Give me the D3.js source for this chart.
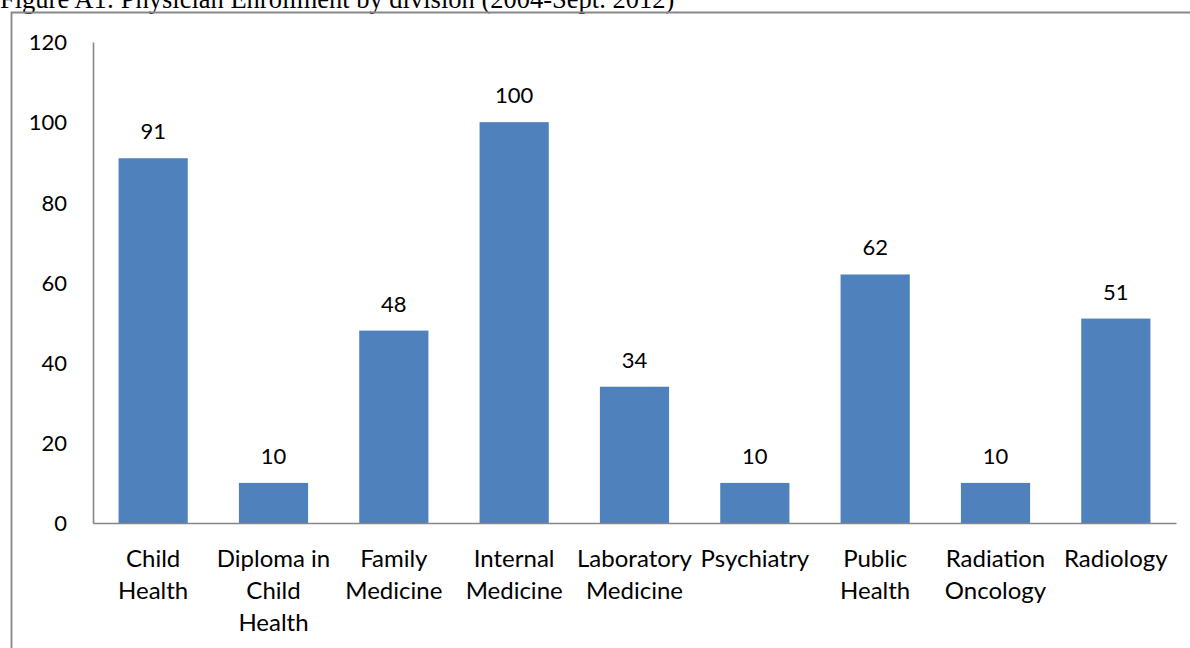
<!DOCTYPE html>
<html>
<head>
<meta charset="utf-8">
<script src="https://cdn.jsdelivr.net/npm/d3@7"></script>
<style>
  body { margin: 0; background: #fff; }
  svg { display: block; }
</style>
</head>
<body>
<div id="chart"></div>
<script>
// data
const categories = ["Child\nHealth", "Diploma in\nChild\nHealth", "Family\nMedicine", "Internal\nMedicine",
  "Laboratory\nMedicine", "Psychiatry", "Public\nHealth", "Radiation\nOncology", "Radiology"];
const enrolment = [91, 10, 48, 100, 34, 10, 62, 10, 51];
const yTicks = [0, 20, 40, 60, 80, 100, 120];
const title = "Figure A1: Physician Enrollment by division (2004-Sept. 2012)";

const width = 1190;
const height = 648;
const margin = { left: 93, right: 14, top: 42, bottom: 125 };

const svg = d3.select("#chart")
  .append("svg")
  .attr("width", width)
  .attr("height", height);

// title, cut off at the top like the scan
svg.append("text")
  .attr("x", 0)
  .attr("y", 8)
  .attr("font-family", "Liberation Serif, Times New Roman, serif")
  .attr("font-size", 26.5)
  .attr("fill", "#000")
  .text(title);

// frame around the chart
svg.append("path")
  .attr("d", `M11.5,${height + 2} V12.5 H${width + 2}`)
  .attr("fill", "none")
  .attr("stroke", "#878787")
  .attr("stroke-width", 1.8);

const xScale = d3.scaleBand()
  .domain(categories)
  .range([margin.left, width - margin.right])
  .paddingInner(0.425)
  .paddingOuter(0.2125);

const yScale = d3.scaleLinear()
  .domain([0, 120])
  .range([height - margin.bottom, margin.top]);

const font = "Lato, Calibri, sans-serif";

// bars
svg.selectAll("rect.bar")
  .data(enrolment)
  .join("rect")
  .attr("class", "bar")
  .attr("x", (d, i) => xScale(categories[i]))
  .attr("y", d => yScale(d))
  .attr("width", xScale.bandwidth())
  .attr("height", d => yScale(0) - yScale(d))
  .attr("fill", "#4F81BD");

// value labels
svg.selectAll("text.value")
  .data(enrolment)
  .join("text")
  .attr("class", "value")
  .attr("x", (d, i) => xScale(categories[i]) + xScale.bandwidth() / 2)
  .attr("y", d => yScale(d) - 19)
  .attr("text-anchor", "middle")
  .attr("font-family", font)
  .attr("font-size", 22)
  .text(d => d);

// y axis
const yAxis = svg.append("g")
  .attr("transform", `translate(${margin.left},0)`)
  .call(d3.axisLeft(yScale).tickValues(yTicks).tickSize(0).tickPadding(26));
yAxis.select(".domain").attr("stroke", "#868686").attr("stroke-width", 1.6);
yAxis.selectAll("text")
  .attr("font-family", font)
  .attr("font-size", 22)
  .attr("fill", "#000")
  .attr("dy", "0.35em");

// x axis
const xAxis = svg.append("g")
  .attr("transform", `translate(0,${yScale(0)})`)
  .call(d3.axisBottom(xScale).tickSize(0).tickFormat(""));
xAxis.select(".domain").attr("stroke", "#868686").attr("stroke-width", 1.6);

// category labels, wrapped as in the original
const labels = svg.selectAll("text.cat")
  .data(categories)
  .join("text")
  .attr("class", "cat")
  .attr("text-anchor", "middle")
  .attr("font-family", font)
  .attr("font-size", 24)
  .attr("fill", "#000");

labels.selectAll("tspan")
  .data(d => d.split("\n").map(line => ({ line, cat: d })))
  .join("tspan")
  .attr("x", d => xScale(d.cat) + xScale.bandwidth() / 2)
  .attr("y", (d, i) => yScale(0) + 44 + i * 32)
  .text(d => d.line);
</script>
</body>
</html>
